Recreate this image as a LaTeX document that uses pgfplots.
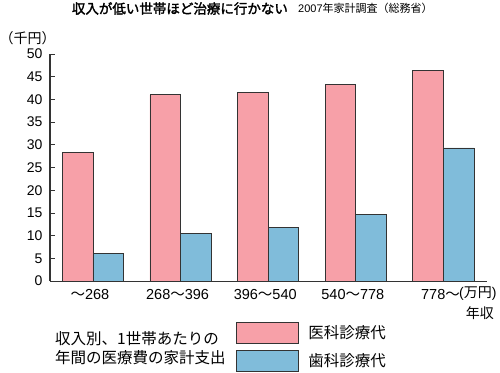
\documentclass[border=0pt]{standalone}
\usepackage{fontspec}
\setmainfont{Liberation Sans}
\newfontfamily\jp{Noto Sans CJK JP}
\newfontfamily\jpb[FakeBold=2]{Noto Sans CJK JP}
\usepackage{pgfplots}
\pgfplotsset{compat=1.18}
\definecolor{pinkbar}{HTML}{F7A0A8}
\definecolor{bluebar}{HTML}{80BCDA}
\definecolor{edge}{HTML}{333333}
\newcommand{\tl}{{\jp ～}}
\begin{document}
\begin{tikzpicture}
\useasboundingbox (-50pt,-91pt) rectangle (450pt,281pt);
\begin{axis}[
  at={(0pt,0pt)}, anchor=south west,
  scale only axis, width=437.3pt, height=227pt,
  xmin=-0.49, xmax=4.5, ymin=0, ymax=50,
  axis lines*=left,
  axis line style={line width=1pt, edge},
  ytick={0,5,...,50},
  xtick={0,1,2,3,4},
  xticklabels={\tl 268, 268\tl 396, 396\tl 540, 540\tl 778, 778\tl},
  x tick style={draw=none},
  y tick style={line width=0.8pt, edge},
  tick align=inside, major tick length=5pt,
  /pgf/number format/assume math mode=true,
  yticklabel style={font=\fontsize{14}{16}\selectfont, xshift=-4pt},
  xticklabel style={font=\fontsize{14.5}{17}\selectfont, xshift=-3pt},
  ybar, bar width=0.35, bar shift=0pt,
  clip=false,
  legend image code/.code={\draw[#1, line width=0.8pt] (0pt,-10.5pt) rectangle (62pt,10.5pt);},
  legend style={draw=none, fill=none, at={(0.4246,-0.1793)}, anchor=north west,
    inner sep=0pt, outer sep=0pt, row sep=6pt, column sep=8pt,
    font=\jp\fontsize{15.5}{18}\selectfont},
  legend cell align=left,
]
\addplot[fill=pinkbar, draw=edge, line width=0.8pt] coordinates {(-0.175,28.3) (0.825,41.0) (1.825,41.6) (2.825,43.2) (3.825,46.3)};
\addlegendentry{医科診療代}
\addplot[fill=bluebar, draw=edge, line width=0.8pt] coordinates {(0.175,6.0) (1.175,10.4) (2.175,11.7) (3.175,14.6) (4.175,29.3)};
\addlegendentry{歯科診療代}
\end{axis}
\node[anchor=west, inner sep=0pt, font=\jpb\fontsize{13.5}{16}\selectfont] at (21.7pt,272.5pt) {収入が低い世帯ほど治療に行かない};
\node[anchor=west, inner sep=0pt, font=\fontsize{11}{13}\selectfont] at (248pt,272.5pt) {2007{\jp 年家計調査（総務省）}};
\node[anchor=west, inner sep=0pt, font=\jp\fontsize{14}{16}\selectfont] at (-50.5pt,243pt) {（千円）};
\node[anchor=west, inner sep=0pt, font=\fontsize{14}{16}\selectfont] at (409pt,-12.5pt) {({\jp 万円})};
\node[anchor=east, inner sep=0pt, font=\jp\fontsize{14}{16}\selectfont] at (444pt,-32pt) {年収};
\node[anchor=west, align=left, inner sep=0pt, font=\jp\fontsize{15.5}{19}\selectfont] at (5pt,-66.8pt) {収入別、1世帯あたりの\\年間の医療費の家計支出};
\end{tikzpicture}
\end{document}
